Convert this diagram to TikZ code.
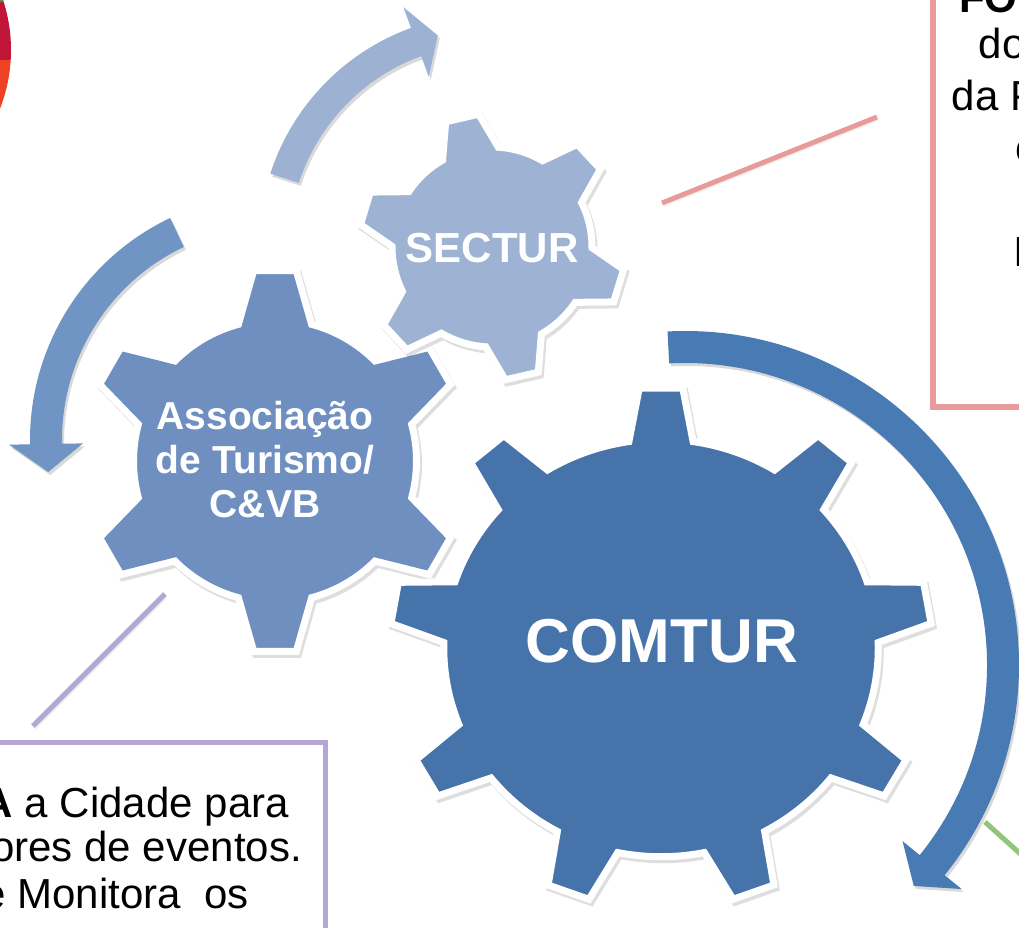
\documentclass[tikz,border=0pt]{standalone}
\usepackage{fontspec}
\setmainfont{Liberation Sans}
\definecolor{sectur}{RGB}{158,179,212}
\definecolor{assoc}{RGB}{111,143,192}
\definecolor{comtur}{RGB}{70,116,170}
\definecolor{arrowtop}{RGB}{157,178,211}
\definecolor{arrowleft}{RGB}{112,148,196}
\definecolor{arrowright}{RGB}{72,122,179}
\definecolor{pinkline}{RGB}{233,155,155}
\definecolor{lavender}{RGB}{180,167,214}
\definecolor{greenline}{RGB}{147,196,125}
\definecolor{pcrimson}{RGB}{193,22,57}
\definecolor{porange}{RGB}{239,65,35}
\definecolor{pgreen}{RGB}{60,160,70}
% #1 teeth, #2 tip radius, #3 root radius, #4 phase, #5 tip half angle, #6 base half angle
\newcommand\gearpath[6]{%
  (#4+360/#1-#6:#3)
  \foreach \k [evaluate=\k as \a using #4+\k*360/#1] in {1,...,#1}{%
    -- (\a-#6:#3) -- (\a-#5:#2) -- (\a+#5:#2) -- (\a+#6:#3)
    arc[start angle=\a+#6, end angle=\a+360/#1-#6, radius=#3]
  } -- cycle}
\begin{document}
\begin{tikzpicture}[x=1pt,y=-1pt,
  gearshadow/.style={preaction={fill=black, draw=black, line width=7pt, opacity=0.13,
     transform canvas={xshift=2pt, yshift=-3pt}}},
  shapeshadow/.style={preaction={fill=black, opacity=0.15,
     transform canvas={xshift=2pt, yshift=-3pt}}},
  lineshadow/.style={preaction={draw=black, opacity=0.12,
     transform canvas={xshift=2pt, yshift=-3pt}}},
  gearbody/.style={draw=white, line width=7pt, line join=miter, gearshadow},
  geartext/.style={text=white, inner sep=0pt, align=center},
  boxtext/.style={inner sep=0pt, font=\fontsize{42}{48}\selectfont},
  connector/.style={line width=5pt, lineshadow}]
\useasboundingbox (0,0) rectangle (1019,927);
\fill[white] (0,0) rectangle (1019,927);
\clip (0,0) rectangle (1019,927);

% partial pie (top left)
\begin{scope}
  \clip (-150,50) circle[radius=161];
  \fill[pcrimson] (-400,-20) rectangle (60,60);
  \fill[porange] (-400,60) rectangle (60,300);
  \fill[pgreen] (-400,-20) rectangle (60,1.5);
\end{scope}

% connector end points
\coordinate (pinkA) at (662,203);
\coordinate (pinkB) at (877,117);
\coordinate (purpA) at (165,594);
\coordinate (purpB) at (33,726);
\coordinate (greenA) at (985,822);
\coordinate (greenB) at (1045,876);

\draw[connector, pinkline] (pinkA) -- (pinkB);
\draw[connector, lavender] (purpA) -- (purpB);
\draw[connector, greenline] (greenA) -- (greenB);

% text boxes
\draw[pinkline, line width=6pt, fill=white, shapeshadow] (933,-40) rectangle (1100,407);
\draw[lavender, line width=5pt, fill=white, shapeshadow] (-60,742.5) rectangle (325,1000);

\node[boxtext, anchor=base west, font=\bfseries\fontsize{42}{48}\selectfont] (r1) at (959,12) {FO};
\node[boxtext, anchor=base west] (r2) at (978.5,58) {do};
\node[boxtext, anchor=base west] (r3) at (951.5,110) {da P};
\node[boxtext, anchor=base west] (r4) at (1015.5,162) {c};
\node[boxtext, anchor=base west] (r5) at (1013,266) {I};

\node[boxtext, anchor=base east] (l1) at (289,817) {\textbf{A} a Cidade para};
\node[boxtext, anchor=base east] (l2) at (302,861) {ores de eventos.};
\node[boxtext, anchor=base east] (l3) at (249,908) {e Monitora\ \ os};

% curved arrows
\fill[arrowtop, shapeshadow, shift={(490,245)}]
  (-162:231) arc[start angle=-162, end angle=-110, radius=231]
  -- (-110:253) -- (-104:216) -- (-110:179) -- (-110:201)
  arc[start angle=-110, end angle=-162, radius=201] -- cycle;
\fill[arrowleft, shapeshadow, shift={(276,440)}]
  (-115.5:246) arc[start angle=-115.5, end angle=-181, radius=246]
  -- (-181:267) -- (-188:230) -- (-181:193) -- (-181:214)
  arc[start angle=-181, end angle=-115.5, radius=214] -- cycle;
\fill[arrowright, shapeshadow, shift={(685,665)}]
  (-93:334) arc[start angle=-93, end angle=39, radius=334]
  -- (39:356) -- (44:318) -- (39:280) -- (39:302)
  arc[start angle=39, end angle=-93, radius=302] -- cycle;

% gears
\filldraw[assoc, gearbody, shift={(275,461)}] \gearpath{6}{191.5}{141.5}{30}{6.4}{15};
\filldraw[sectur, gearbody, shift={(492,247)}] \gearpath{6}{133.5}{100}{17}{7.3}{16.6};
\filldraw[comtur, gearbody, shift={(661,648)}, xscale=1.02, yscale=0.98] \gearpath{9}{266}{213}{30}{4.6}{8.5};

\node[geartext, font=\bfseries\fontsize{39}{44}\selectfont] (assoclbl) at (265,460) {Associação\\de Turismo/\\C\&VB};
\node[geartext, font=\bfseries\fontsize{42}{48}\selectfont] (secturlbl) at (492,248) {SECTUR};
\node[geartext, font=\bfseries\fontsize{62}{70}\selectfont] (comturlbl) at (662,641) {COMTUR};
\end{tikzpicture}
\end{document}
